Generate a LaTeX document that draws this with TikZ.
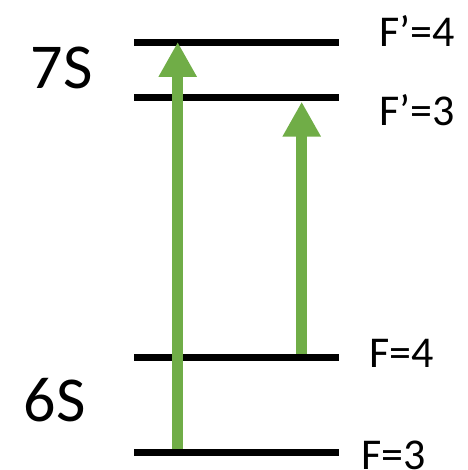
\documentclass[tikz,border=0pt]{standalone}
\usepackage{fontspec}
\setmainfont{Carlito}
\usetikzlibrary{arrows.meta}
\definecolor{lvlgreen}{HTML}{70AD47}
\begin{document}
\begin{tikzpicture}[x=1pt,y=-1pt,
  level/.style={line width=7pt,black},
  excite/.style={line width=11.5pt,lvlgreen,-{Triangle[width=36pt,length=35pt]}},
  flabel/.style={font=\fontsize{44}{44}\selectfont,inner sep=0pt,anchor=west},
  slabel/.style={font=\fontsize{64}{64}\selectfont,inner sep=0pt}]
\useasboundingbox (0,0) rectangle (467,470);
% level end points
\coordinate (a1) at (134,42.5);  \coordinate (a2) at (339,42.5);
\coordinate (b1) at (134,98);    \coordinate (b2) at (339,98);
\coordinate (c1) at (134,357);   \coordinate (c2) at (339,357);
\coordinate (d1) at (134,452.5); \coordinate (d2) at (339,452.5);
\draw[level] (a1) -- (a2);
\draw[level] (b1) -- (b2);
\draw[level] (c1) -- (c2);
\draw[level] (d1) -- (d2);
% arrow ends
\coordinate (p1) at (177.7,449);  \coordinate (q1) at (177.7,42);
\coordinate (p2) at (301.7,353.5);\coordinate (q2) at (301.7,101.7);
\draw[excite] (p1) -- (q1);
\draw[excite] (p2) -- (q2);
% labels
\node[flabel] (l1) at (379,31) {F’=4};
\node[flabel] (l2) at (379,110.5) {F’=3};
\node[flabel] (l3) at (369,353.5) {F=4};
\node[flabel] (l4) at (361,455) {F=3};
\node[slabel] (s7) at (61.5,68) {7S};
\node[slabel] (s6) at (54.5,400) {6S};
\end{tikzpicture}
\end{document}
